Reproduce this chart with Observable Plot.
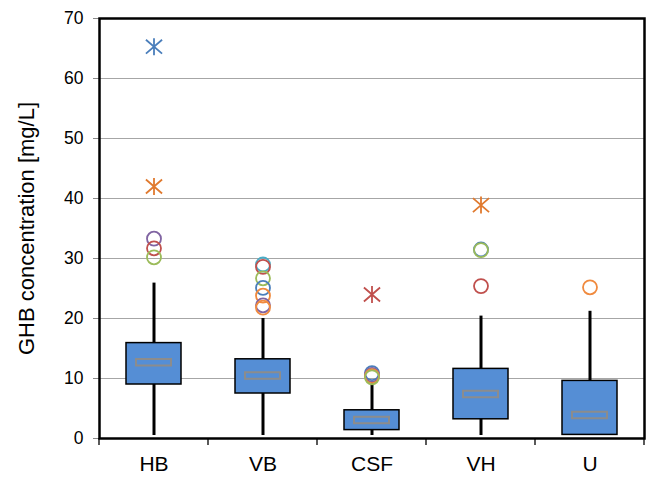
<!DOCTYPE html>
<html>
<head>
<meta charset="utf-8">
<script src="https://cdn.jsdelivr.net/npm/d3@7"></script>
<script src="https://cdn.jsdelivr.net/npm/@observablehq/plot@0.6"></script>
<style>
  html, body { margin: 0; padding: 0; background: #fff; }
  #chart { width: 648px; height: 477px; }
</style>
</head>
<body>
<div id="chart"></div>
<script>
const categories = ["HB", "VB", "CSF", "VH", "U"];
const whiskerLow = [0.5, 0.5, 0.5, 0.5, 0.5];
const q1 = [9.0, 7.5, 1.4, 3.2, 0.6];
const median = [12.7, 10.5, 3.1, 7.4, 3.9];
const q3 = [15.9, 13.2, 4.7, 11.6, 9.6];
const whiskerHigh = [25.9, 20.0, 9.5, 20.4, 21.2];

// outliers: category, value, case id, marker kind
const outCat   = ["HB","HB","HB","HB","HB", "VB","VB","VB","VB","VB","VB","VB", "CSF","CSF","CSF","CSF","CSF", "VH","VH","VH","VH", "U"];
const outValue = [65.3,42.0,33.3,31.7,30.2, 29.0,28.6,26.7,25.1,23.8,22.2,21.8, 24.0,10.9,10.6,10.4,10.2, 38.9,31.5,31.4,25.4, 25.2];
const outCase  = ["a","g","e","c","d", "f","c","d","a","b","e","b", "c","a","e","b","d", "g","a","d","c", "b"];
const outKind  = ["star","star","circle","circle","circle", "circle","circle","circle","circle","circle","circle","circle", "star","circle","circle","circle","circle", "star","circle","circle","circle", "circle"];

const caseIds = ["a","b","c","d","e","f","g"];
const caseColors = ["#4A7EBB","#F08A3E","#C0504D","#9BBB59","#8064A2","#4BACC6","#E07A2F"];

const yTicks = [0, 10, 20, 30, 40, 50, 60, 70];
const gridTicks = [10, 20, 30, 40, 50, 60];
const yLabel = "GHB concentration [mg/L]";

const boxes = categories.map((c, i) => ({cat: c, lo: whiskerLow[i], q1: q1[i], med: median[i], q3: q3[i], hi: whiskerHigh[i]}));
const outliers = outCat.map((c, i) => ({cat: c, value: outValue[i], id: outCase[i], kind: outKind[i]}));

const starSymbol = {
  draw(context, size) {
    const r = Math.sqrt(size / Math.PI);
    const a = r * 0.95, b = r * 0.82;
    context.moveTo(0, -r); context.lineTo(0, r);
    context.moveTo(-a, -b); context.lineTo(a, b);
    context.moveTo(-a, b); context.lineTo(a, -b);
  }
};

function bandTicks(index, scales, values, dimensions) {
  const g = d3.create("svg:g");
  const x = scales.x;
  const yb = dimensions.height - dimensions.marginBottom;
  const xs = categories.map(c => x(c));
  xs.push(dimensions.width - dimensions.marginRight);
  for (const px of xs) {
    g.append("line").attr("x1", px).attr("x2", px).attr("y1", yb).attr("y2", yb + 7)
      .attr("stroke", "#000").attr("stroke-width", 1.3);
  }
  return g.node();
}

const chart = Plot.plot({
  width: 648,
  height: 477,
  marginLeft: 99,
  marginRight: 4,
  marginTop: 18,
  marginBottom: 39,
  style: {fontFamily: "'Liberation Sans', Arial, sans-serif", background: "#fff", overflow: "visible"},
  x: {type: "band", domain: categories, padding: 0, label: null},
  y: {domain: [0, 70], label: null},
  color: {domain: caseIds, range: caseColors},
  marks: [
    Plot.gridY(gridTicks, {stroke: "#A6A6A6", strokeOpacity: 1, strokeWidth: 1}),
    Plot.axisY(yTicks, {tickSize: 6, tickPadding: 10, stroke: "#888", fontSize: 17.5, fill: "#000", label: null}),
    Plot.axisX({tickSize: 0, tickPadding: 18, fontSize: 21, fill: "#000", label: null}),
    Plot.text([yLabel], {frameAnchor: "left", dx: -73, rotate: -90, fontSize: 22, fill: "#000", textAnchor: "middle"}),
    Plot.ruleX(boxes, {x: "cat", y1: "lo", y2: "hi", stroke: "#000", strokeWidth: 3}),
    Plot.barY(boxes, {x: "cat", y1: "q1", y2: "q3", fill: "#558ED5", stroke: "#000", strokeWidth: 1.5, insetLeft: 27, insetRight: 27}),
    Plot.tickY(boxes, {x: "cat", y: "med", stroke: "#8C8C8C", strokeWidth: 8.5, inset: 36}),
    Plot.tickY(boxes, {x: "cat", y: "med", stroke: "#558ED5", strokeWidth: 4.5, inset: 38}),
    Plot.dot(outliers.filter(d => d.kind === "circle"), {x: "cat", y: "value", stroke: "id", r: 7, strokeWidth: 1.8, fill: "none"}),
    Plot.dot(outliers.filter(d => d.kind === "star"), {x: "cat", y: "value", stroke: "id", r: 8.5, strokeWidth: 1.8, symbol: starSymbol, fill: "none"}),
    Plot.frame({stroke: "#000", strokeWidth: 2.5}),
    bandTicks
  ]
});

document.getElementById("chart").appendChild(chart);
</script>
</body>
</html>
